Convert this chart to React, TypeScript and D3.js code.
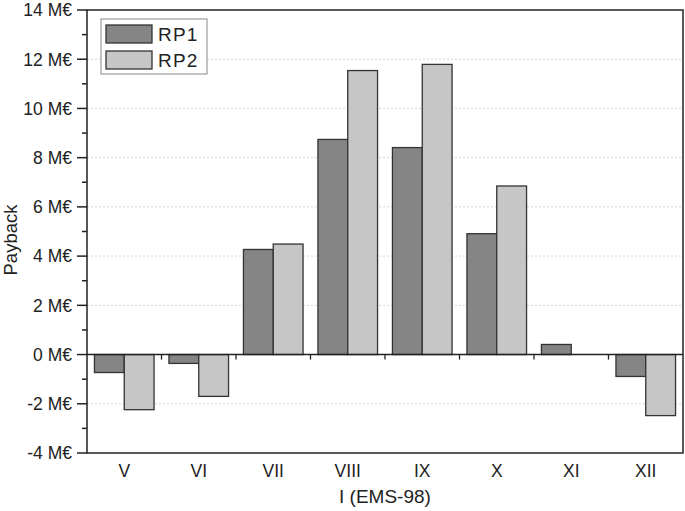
import React from "react";
import * as d3 from "d3";

const categories = ["V", "VI", "VII", "VIII", "IX", "X", "XI", "XII"];
const rp1 = [-0.73, -0.36, 4.27, 8.74, 8.41, 4.91, 0.41, -0.89];
const rp2 = [-2.24, -1.70, 4.49, 11.54, 11.79, 6.85, 0, -2.48];
const seriesNames = ["RP1", "RP2"];
const majorTicks = [-4, -2, 0, 2, 4, 6, 8, 10, 12, 14];
const minorTicks = [-3, -1, 1, 3, 5, 7, 9, 11, 13];

const W = 685, H = 511;
const M = { left: 87, right: 683, top: 10, bottom: 453 };
const colors = ["#858585", "#c6c6c6"];
const font = "Liberation Sans, Arial, sans-serif";

export default function App() {
  const x = d3.scaleBand<string>().domain(categories).range([M.left, M.right]).paddingInner(0.2).paddingOuter(0.1);
  const x0 = d3.scaleBand<string>().domain(categories).range([M.left, M.right]);
  const xs = d3.scaleBand<string>().domain(seriesNames).range([0, x.bandwidth()]);
  const y = d3.scaleLinear().domain([-4, 14]).range([M.bottom, M.top]);
  const data = [rp1, rp2];
  return (
    <svg width={W} height={H} style={{ position: "absolute", left: 0, top: 0 }}>
      <rect x={0} y={0} width={W} height={H} fill="#fff" />
      {majorTicks.filter(t => t !== -4 && t !== 0 && t !== 14).map(t => (
        <line key={"g" + t} x1={M.left} x2={M.right} y1={y(t)} y2={y(t)} stroke="#d4d4d4" strokeWidth={1} strokeDasharray="2,2" />
      ))}
      {categories.map((c, i) => data.map((s, j) => {
        const v = s[i];
        if (v === 0) return null;
        const y1 = Math.min(y(v), y(0));
        const h = Math.abs(y(v) - y(0));
        return (
          <rect key={c + j} x={(x(c) ?? 0) + (xs(seriesNames[j]) ?? 0)} y={y1} width={xs.bandwidth()} height={h}
            fill={colors[j]} stroke="#333" strokeWidth={1.3} />
        );
      }))}
      <line x1={M.left} x2={M.right} y1={y(0)} y2={y(0)} stroke="#222" strokeWidth={1.5} />
      {categories.slice(1).map(c => (
        <line key={"ct" + c} x1={x0(c)} x2={x0(c)} y1={y(0)} y2={y(0) + 5} stroke="#222" strokeWidth={1.3} />
      ))}
      <rect x={M.left} y={M.top} width={M.right - M.left} height={M.bottom - M.top} fill="none" stroke="#222" strokeWidth={1.5} />
      {majorTicks.map(t => (
        <g key={"t" + t}>
          <line x1={M.left - 10} x2={M.left} y1={y(t)} y2={y(t)} stroke="#222" strokeWidth={1.5} />
          <text x={M.left - 15} y={y(t)} dy="0.36em" textAnchor="end" fontFamily={font} fontSize={17.5} fill="#222">{t} M€</text>
        </g>
      ))}
      {minorTicks.map(t => (
        <line key={"m" + t} x1={M.left - 5} x2={M.left} y1={y(t)} y2={y(t)} stroke="#222" strokeWidth={1.5} />
      ))}
      {categories.map(c => (
        <text key={"xl" + c} x={(x0(c) ?? 0) + x0.bandwidth() / 2} y={477} textAnchor="middle" fontFamily={font} fontSize={17.5} fill="#222">{c}</text>
      ))}
      <text x={(M.left + M.right) / 2} y={503} textAnchor="middle" fontFamily={font} fontSize={19} fill="#222">I (EMS-98)</text>
      <text transform={`translate(17,240) rotate(-90)`} textAnchor="middle" fontFamily={font} fontSize={18.5} fill="#222">Payback</text>
      <rect x={101} y={19} width={106} height={55} fill="#fff" stroke="#888" strokeWidth={1} />
      {seriesNames.map((n, j) => (
        <g key={"l" + n}>
          <rect x={106} y={25 + j * 26} width={46} height={18} fill={colors[j]} stroke="#333" strokeWidth={1.3} />
          <text x={158} y={34 + j * 26} dy="0.36em" fontFamily={font} fontSize={19} letterSpacing={1.2} fill="#222">{n}</text>
        </g>
      ))}
    </svg>
  );
}
